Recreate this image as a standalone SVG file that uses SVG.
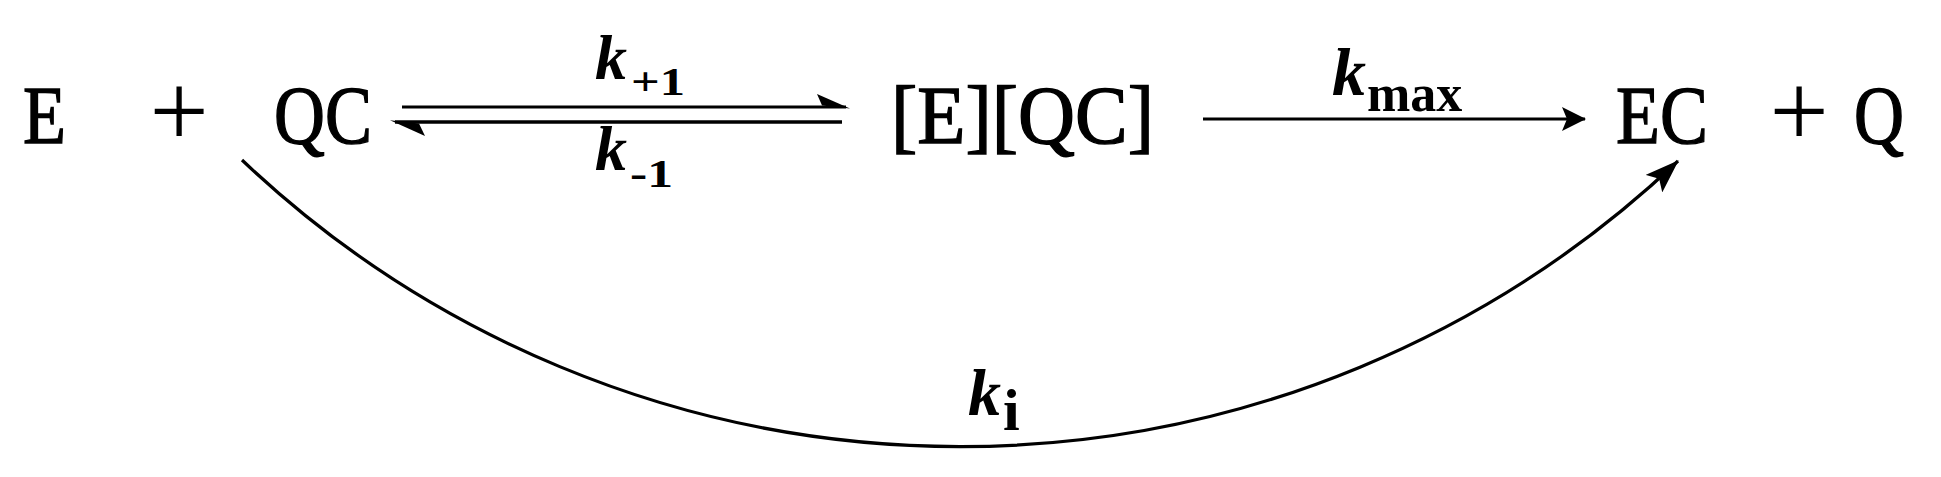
<svg xmlns="http://www.w3.org/2000/svg" width="1941" height="477" viewBox="0 0 1941 477">
<style>
.sp{font-family:"Liberation Serif","Times New Roman",serif;font-size:83px;fill:#000;stroke:#000;stroke-width:1.4}
.pl{font-family:"Liberation Serif","Times New Roman",serif;font-size:105px;fill:#000;text-anchor:middle}
.k{font-family:"Liberation Serif","Times New Roman",serif;font-weight:bold;font-style:italic;fill:#000}
.sub{font-family:"Liberation Serif","Times New Roman",serif;font-weight:bold;fill:#000}
.ln{fill:none;stroke:#000;stroke-width:3.2}
</style>
<defs>
<marker id="ah" viewBox="0 0 24 24" refX="23" refY="12" markerWidth="24" markerHeight="24" markerUnits="userSpaceOnUse" orient="auto">
<path d="M0,0 L24,12 L0,24 L5,12 Z" fill="#000"/>
</marker>
<marker id="ah2" viewBox="0 0 34 24" refX="33" refY="12" markerWidth="34" markerHeight="24" markerUnits="userSpaceOnUse" orient="auto">
<path d="M0,0 L34,12 L0,24 L7,12 Z" fill="#000"/>
</marker>
</defs>
<rect width="1941" height="477" fill="#fff"/>
<g id="node-E"><text class="sp" x="23" y="143" textLength="43" lengthAdjust="spacingAndGlyphs">E</text></g>
<g id="node-plus1"><text class="pl" x="179" y="147">+</text></g>
<g id="node-QC"><text class="sp" x="274" y="143" textLength="98" lengthAdjust="spacingAndGlyphs">QC</text></g>
<g id="node-EQC"><text class="sp" x="891" y="143" textLength="263" lengthAdjust="spacingAndGlyphs">[E][QC]</text></g>
<g id="node-EC"><text class="sp" x="1616" y="143" textLength="92" lengthAdjust="spacingAndGlyphs">EC</text></g>
<g id="node-plus2"><text class="pl" x="1799" y="147">+</text></g>
<g id="node-Q"><text class="sp" x="1854" y="143" textLength="50" lengthAdjust="spacingAndGlyphs">Q</text></g>
<g id="connectors">
<path class="ln" d="M402,107 H846"/>
<polygon points="850,108.6 817,94 822,105.5" fill="#000"/>
<path class="ln" d="M395,122 H842" style="stroke-width:3.5"/>
<polygon points="390,120.3 425,136 419,123.6" fill="#000"/>
<path class="ln" d="M1203,119 H1585" marker-end="url(#ah)"/>
<path class="ln" d="M242,160 A1044,1044 0 0 0 1678,161" marker-end="url(#ah2)"/>
</g>
<g id="labels">
<text x="595" y="79"><tspan class="k" font-size="64">k</tspan><tspan class="sub" font-size="40" x="631" y="95" textLength="54" lengthAdjust="spacingAndGlyphs">+1</tspan></text>
<text x="595" y="170"><tspan class="k" font-size="64">k</tspan><tspan class="sub" font-size="40" x="630" y="187" textLength="43" lengthAdjust="spacingAndGlyphs">-1</tspan></text>
<text x="1332" y="95"><tspan class="k" font-size="68">k</tspan><tspan class="sub" font-size="52" x="1367" y="111">max</tspan></text>
<text x="968" y="415"><tspan class="k" font-size="66">k</tspan><tspan class="sub" font-size="60" x="1003" y="430">i</tspan></text>
</g>
</svg>
